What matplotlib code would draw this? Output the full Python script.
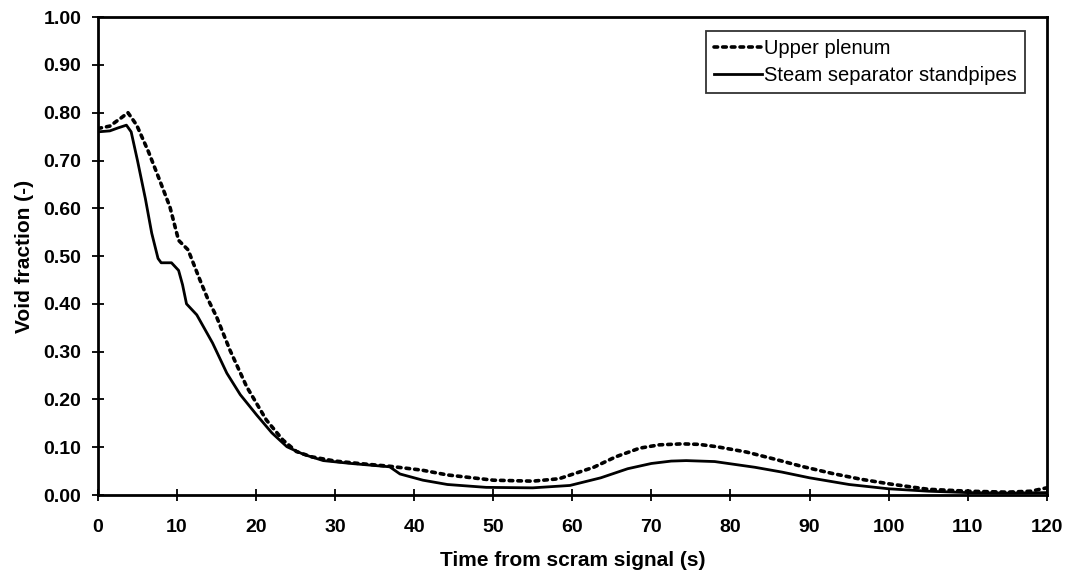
import numpy as np
from matplotlib import pyplot as plt

plt.rcParams['font.family'] = ['Liberation Sans', 'DejaVu Sans']

# Upper plenum (dotted)
t_up = [0, 1.5, 3.0, 3.8, 4.9, 6.4, 7.8, 9.1, 10.2, 11.4, 12.9, 13.9, 15.0, 16.7,
        18.8, 21.3, 23.4, 25.1, 27.0, 30.0, 33.0, 37.0, 41.0, 44.2, 50.0, 55.0,
        58.3, 62.7, 65.5, 68.5, 71.0, 73.9, 76.0, 78.3, 82.0, 85.6, 89.0, 92.9, 96.5,
        100.2, 105.0, 110.0, 115.0, 118.0, 120.0]
v_up = [0.767, 0.772, 0.790, 0.800, 0.774, 0.718, 0.659, 0.603, 0.533, 0.513, 0.450, 0.410,
        0.373, 0.303, 0.227, 0.157, 0.115, 0.091, 0.080, 0.071, 0.066, 0.060, 0.052, 0.042,
        0.031, 0.029, 0.034, 0.058, 0.080, 0.098, 0.105, 0.107, 0.106, 0.101, 0.090, 0.075,
        0.060, 0.045, 0.033, 0.023, 0.012, 0.008, 0.006, 0.008, 0.015]

# Steam separator standpipes (solid)
t_ss = [0, 1.5, 2.5, 3.6, 4.2, 5.0, 6.0, 6.8, 7.6, 8.0, 9.3, 10.2, 10.7, 11.2, 12.5,
        14.5, 16.3, 18.0, 20.1, 22.0, 23.9, 26.0, 28.5, 32.0, 36.9, 38.2, 41.1, 44.2,
        49.1, 55.0, 59.7, 63.6, 67.0, 70.0, 72.5, 74.4, 78.0, 83.1, 86.5, 90.0, 95.0,
        100.0, 105.0, 110.0, 115.0, 120.0]
v_ss = [0.760, 0.762, 0.768, 0.774, 0.760, 0.700, 0.620, 0.548, 0.495, 0.486, 0.486, 0.470,
        0.440, 0.400, 0.377, 0.318, 0.255, 0.210, 0.167, 0.130, 0.101, 0.085, 0.072, 0.066,
        0.059, 0.044, 0.031, 0.022, 0.016, 0.015, 0.020, 0.036, 0.055, 0.066, 0.071, 0.072,
        0.070, 0.058, 0.048, 0.036, 0.022, 0.013, 0.008, 0.005, 0.004, 0.005]

fig = plt.figure(figsize=(10.67, 5.72), dpi=100)
ax = fig.add_axes([0.0918, 0.1346, 0.8892, 0.8354])

ax.plot(t_up, v_up, color='black', linewidth=2.6, linestyle=(0, (1, 1.4)),
        dash_capstyle='round', label='Upper plenum')
ax.plot(t_ss, v_ss, color='black', linewidth=2.0, label='Steam separator standpipes')

ax.set_xlim(0, 120)
ax.set_ylim(0, 1.0)
ax.set_xticks(np.arange(0, 121, 10))
ax.set_yticks(np.arange(0, 1.01, 0.1))
ax.set_yticklabels(['%.2f' % v for v in np.arange(0, 1.01, 0.1)])
ax.tick_params(direction='inout', length=8, width=1.3, labelsize=14)
ax.tick_params(axis='x', pad=13)
ax.tick_params(axis='y', pad=8)
for lab in ax.get_xticklabels() + ax.get_yticklabels():
    lab.set_fontweight('bold')
for sp in ax.spines.values():
    sp.set_linewidth(2)

ax.set_xlabel('Time from scram signal (s)', fontsize=15, fontweight='bold', labelpad=11)
ax.set_ylabel('Void fraction (-)', fontsize=15, fontweight='bold', labelpad=7)

leg = ax.legend(loc='upper right', bbox_to_anchor=(0.977, 0.971), borderaxespad=0,
                fontsize=14.5, frameon=True, fancybox=False, edgecolor='black',
                handlelength=2.4, handletextpad=0.1, borderpad=0.4, labelspacing=0.4)
leg.get_frame().set_linewidth(1.3)

fig.savefig('out.png', dpi=100)
